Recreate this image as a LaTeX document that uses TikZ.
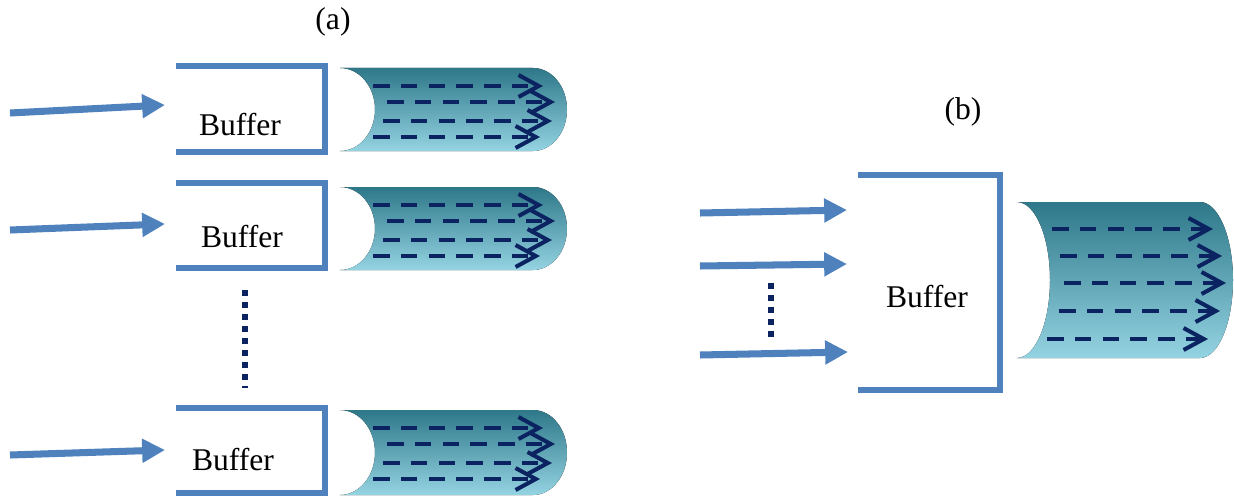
\documentclass[tikz,border=0pt]{standalone}
\usepackage{fontspec}
\setmainfont{Liberation Serif}
\usetikzlibrary{arrows.meta}
\definecolor{bblue}{HTML}{4F81BD}
\definecolor{navy}{HTML}{0B2461}
\definecolor{tealtop}{HTML}{2E7889}
\definecolor{tealmid}{HTML}{47A8C6}
\definecolor{tealbot}{HTML}{94D3E2}
\newcommand\pipeshape[6]{%
  \fill[pipe] (#1,#2) arc[start angle=-90,end angle=90,x radius=#4,y radius={(#3-#2)/2}]
    -- ({#5-#6},#3) arc[start angle=90,end angle=-90,x radius=#6,y radius={(#3-#2)/2}] -- cycle;}
\begin{document}
\begin{tikzpicture}[x=0.02cm,y=-0.02cm,
  bracket/.style={draw=bblue,line width=3.5pt,line join=miter},
  inarrow/.style={bblue,line width=4pt,-{Triangle[length=13pt,width=13pt]}},
  flow/.style={navy,line width=2.3pt,dash pattern=on 9.5pt off 6.3pt,-{Straight Barb[length=11.5pt,width=12.5pt]}},
  pipe/.style={top color=tealtop,middle color=tealmid,bottom color=tealbot},
  dots/.style={navy,line width=3pt,dash pattern=on 3.4pt off 3.4pt},
  lbl/.style={font=\fontsize{18}{21}\selectfont,inner sep=0pt}]
\path[use as bounding box] (0,0) rectangle (1234,500);

% labels
\node[lbl] (la) at (333,22) {(a)};
\node[lbl] (lb) at (963,112) {(b)};

% ---------- (a) row 1
\draw[bracket] (176,66) -- (325,66) -- (325,152) -- (176,152);
\node[lbl] (bufA1) at (240,125) {Buffer};
\coordinate (inA1s) at (10,113); \coordinate (inA1e) at (165,105);
\draw[inarrow] (inA1s) -- (inA1e);
\pipeshape{340}{68}{151}{35}{567}{34}
\foreach \y/\s/\e [count=\i] in {86/373/543,102/387/555,121/383/552,137/373/540}{
  \coordinate (fA1s\i) at (\s,\y); \coordinate (fA1e\i) at (\e,\y);
  \draw[flow] (fA1s\i) -- (fA1e\i);}

% ---------- (a) row 2
\draw[bracket] (176,183) -- (325,183) -- (325,268) -- (176,268);
\node[lbl] (bufA2) at (242,237) {Buffer};
\coordinate (inA2s) at (10,230); \coordinate (inA2e) at (165,224);
\draw[inarrow] (inA2s) -- (inA2e);
\pipeshape{340}{187}{270}{35}{567}{34}
\foreach \y/\s/\e [count=\i] in {205/373/543,221/387/555,240/383/552,256/373/540}{
  \coordinate (fA2s\i) at (\s,\y); \coordinate (fA2e\i) at (\e,\y);
  \draw[flow] (fA2s\i) -- (fA2e\i);}

% dots (a)
\coordinate (dAs) at (245,290); \coordinate (dAe) at (245,388);
\draw[dots] (dAs) -- (dAe);

% ---------- (a) row 3
\draw[bracket] (176,408) -- (325,408) -- (325,493) -- (176,493);
\node[lbl] (bufA3) at (233,460) {Buffer};
\coordinate (inA3s) at (10,455); \coordinate (inA3e) at (165,450);
\draw[inarrow] (inA3s) -- (inA3e);
\pipeshape{340}{410}{495}{35}{567}{34}
\foreach \y/\s/\e [count=\i] in {428/373/543,444/387/555,463/383/552,479/373/540}{
  \coordinate (fA3s\i) at (\s,\y); \coordinate (fA3e\i) at (\e,\y);
  \draw[flow] (fA3s\i) -- (fA3e\i);}

% ---------- (b)
\draw[bracket] (858,175) -- (1000,175) -- (1000,390) -- (858,390);
\node[lbl] (bufB) at (927,297) {Buffer};
\foreach \ys/\ye/\xe [count=\i] in {213/210/847,266/264/847,355/352/848}{
  \coordinate (inBs\i) at (700,\ys); \coordinate (inBe\i) at (\xe,\ye);
  \draw[inarrow] (inBs\i) -- (inBe\i);}
\coordinate (dBs) at (771,283); \coordinate (dBe) at (771,339);
\draw[dots] (dBs) -- (dBe);
\pipeshape{1017}{202}{358}{33}{1233}{33}
\foreach \y/\s/\e [count=\i] in {229/1052/1213,256/1060/1222,283/1064/1226,311/1059/1220,339/1047/1208}{
  \coordinate (fBs\i) at (\s,\y); \coordinate (fBe\i) at (\e,\y);
  \draw[flow] (fBs\i) -- (fBe\i);}
\end{tikzpicture}
\end{document}
